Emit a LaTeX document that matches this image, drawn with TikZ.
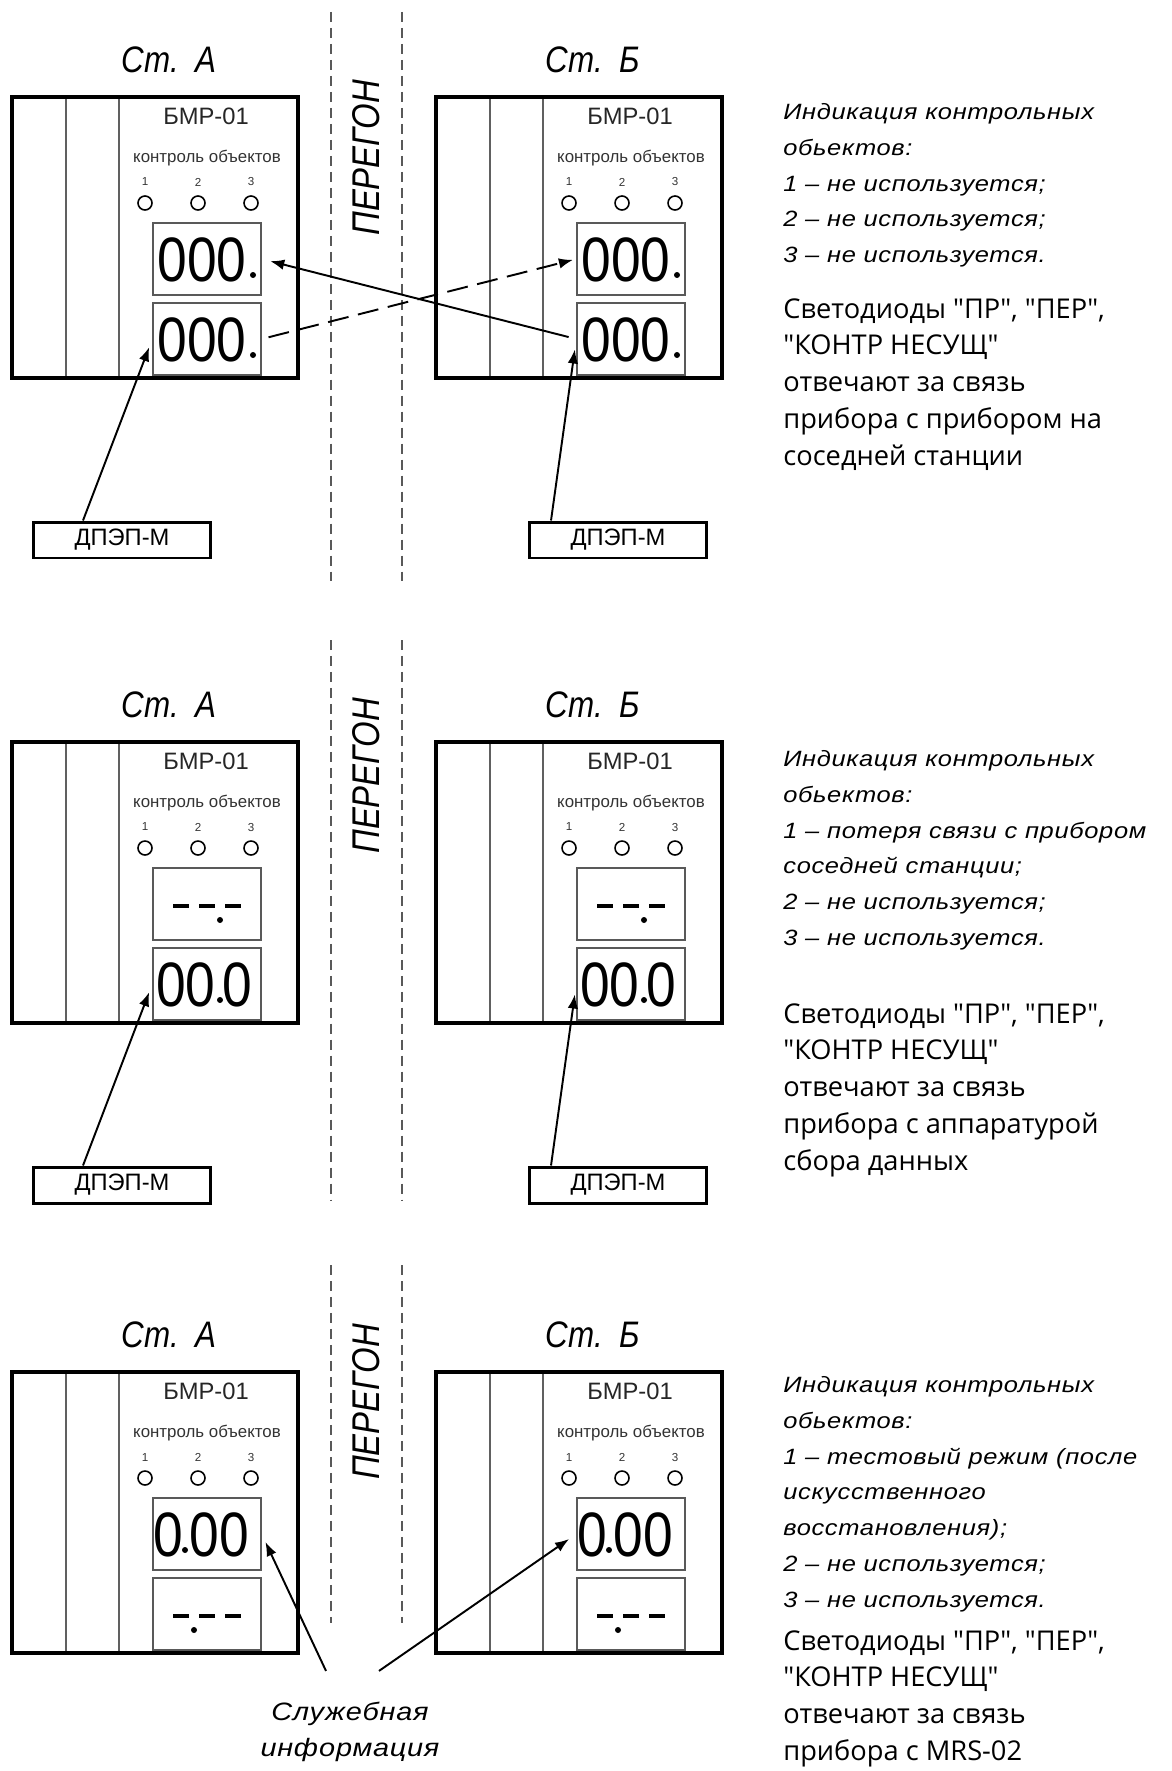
\documentclass[tikz,border=0pt]{standalone}
\usepackage{fontspec}
\setmainfont{Liberation Sans}
\newfontfamily\gostfont[FakeStretch=1.15,LetterSpace=3]{Liberation Sans}
\newfontfamily\titlefont[FakeStretch=0.85]{Liberation Sans}
\newfontfamily\notefont{Open Sans}
\newfontfamily\segfont[FakeStretch=0.85]{Liberation Sans}
\usetikzlibrary{arrows.meta}

\tikzset{
  unit/.style={line width=2pt},
  rack/.style={line width=0.8pt, gray!75!black},
  panel/.style={draw=gray!70!black, line width=0.8pt, minimum width=2.16cm, minimum height=1.44cm, inner sep=0},
  lamp/.style={line width=0.9pt},
  num/.style={font=\fontsize{6.6}{7}\selectfont, inner sep=0, black!80},
  seg/.style={font=\segfont\fontsize{35.7}{36}\selectfont, inner sep=0},
  segbar/.style={line width=2.4pt},
  sensor/.style={draw, line width=1.7pt, minimum width=3.56cm, minimum height=0.72cm, inner sep=0, font=\fontsize{13.5}{14}\selectfont},
  link/.style={-{Latex[length=8pt,width=6pt]}, line width=1.1pt},
  border/.style={gray!70!black, line width=0.9pt, dash pattern=on 5.7pt off 3.4pt},
  stname/.style={font=\titlefont\itshape\fontsize{21}{22}\selectfont, inner sep=0},
  note/.style={anchor=north west, align=left, inner sep=0, font=\gostfont\itshape\fontsize{12.6}{20.4}\selectfont},
  led/.style={anchor=north west, align=left, inner sep=0, font=\notefont\fontsize{15.5}{21}\selectfont},
}

\begin{document}
\begin{tikzpicture}[x=0.02cm, y=-0.02cm]
  \useasboundingbox (0,0) rectangle (1172,1771);

  % Two BMR-01 units per row, three rows
  \foreach \s/\oy in {1/0, 2/645, 3/1275}{
    \foreach \st/\ox/\nm in {A/0/А, B/424/Б}{
      \begin{scope}[shift={(12+\ox,97+\oy)}]
        \draw[rack] (54,0) -- (54,281) (107,0) -- (107,281);
        \draw[unit] (0,0) rectangle (286,281);
        \node[stname] (st\st\s) at (157,-37) {Ст.\hspace{0.45em}\nm};
        \node[font=\fontsize{13.5}{14}\selectfont, black!85] (bmr\st\s) at (194,19) {БМР-01};
        \node[font=\fontsize{9.6}{10}\selectfont, black!80] (ko\st\s) at (195,61) {контроль объектов};
        \foreach \i/\cx in {1/133, 2/186, 3/239}{
          \node[num] (n\st\s\i) at (\cx,85) {\i};
          \draw[lamp] (\cx,106) circle (0.14cm);
        }
        % upper and lower indicators
        \node[panel] (\st\s u) at (195,162) {};
        \node[panel] (\st\s l) at (195,242) {};
      \end{scope}
    }
  }

  % Haul section between stations
  \foreach \ya/\yb/\yt in {12/581/158, 640/1200/776, 1265/1623/1402}{
    \draw[border] (331,\ya) -- (331,\yb);
    \draw[border] (402,\ya) -- (402,\yb);
    \node[rotate=90, font=\titlefont\itshape\fontsize{22}{23}\selectfont, inner sep=0] (hl\yt) at (366,\yt) {ПЕРЕГОН};
  }

  % Row 1: counters
  \foreach \p in {A1u,A1l,B1u,B1l}{
    \node[seg] (\p d) at ([shift={(-5,1)}]\p.center) {000};
    \fill ([shift={(46,16)}]\p.center) circle (0.06cm);
  }
  % Row 2: no link / counter
  \foreach \p in {A2u,B2u}{
    \foreach \dx in {-34,-8,18}
      \draw[segbar] ([shift={(\dx,2)}]\p.center) -- ++(16,0);
    \fill ([shift={(13,16)}]\p.center) circle (0.06cm);
  }
  \foreach \p in {A2l,B2l}{
    \node[seg] (\p d) at ([shift={(-3,1)}]\p.center) {00\kern4pt0};
    \fill ([shift={(13,16)}]\p.center) circle (0.06cm);
  }
  % Row 3: service info / no link
  \foreach \p in {A3u,B3u}{
    \node[seg] (\p d) at ([shift={(-6,1)}]\p.center) {0\kern4pt00};
    \fill ([shift={(-22,16)}]\p.center) circle (0.06cm);
  }
  \foreach \p in {A3l,B3l}{
    \foreach \dx in {-34,-8,18}
      \draw[segbar] ([shift={(\dx,2)}]\p.center) -- ++(16,0);
    \fill ([shift={(-13,16)}]\p.center) circle (0.06cm);
  }

  % DPEP-M sensors, rows 1 and 2
  \foreach \s/\oy in {1/0, 2/645}{
    \node[sensor] (dpA\s) at (122,540+\oy) {ДПЭП-М};
    \node[sensor] (dpB\s) at (618,540+\oy) {ДПЭП-М};
    \draw[link, shorten >=5pt] ([xshift=-0.78cm]dpA\s.north) -- (A\s l.west);
    \draw[link, shorten >=6pt] ([xshift=-1.34cm]dpB\s.north) -- (B\s l.west);
  }

  % Row 1: exchange between stations
  \draw[link, shorten <=4.5pt, shorten >=5pt] (B1l.west) -- (A1u.east);
  \draw[link, dash pattern=on 12pt off 5.5pt, shorten <=4pt, shorten >=2pt] (A1l.east) -- (B1u.west);

  % Row 3: service info
  \node[font=\gostfont\itshape\fontsize{14.3}{20.4}\selectfont, align=center, inner sep=0] (srv) at (350,1732) {Служебная\\информация};
  \draw[link, shorten >=5pt] ([shift={(-24,-31)}]srv.north) -- (A3u.east);
  \draw[link, shorten >=5pt] ([shift={(29,-31)}]srv.north) -- (B3u.west);

  % Notes
  \node[note] (ind1) at (783,103) {Индикация контрольных\\обьектов:\\1 – не используется;\\2 – не используется;\\3 – не используется.};
  \node[led] (led1) at (783,298) {Светодиоды "ПР", "ПЕР",\\"КОНТР НЕСУЩ"\\отвечают за связь\\прибора с прибором на\\соседней станции};
  \node[note] (ind2) at (783,750) {Индикация контрольных\\обьектов:\\1 – потеря связи с прибором\\соседней станции;\\2 – не используется;\\3 – не используется.};
  \node[led] (led2) at (783,1003) {Светодиоды "ПР", "ПЕР",\\"КОНТР НЕСУЩ"\\отвечают за связь\\прибора с аппаратурой\\сбора данных};
  \node[note] (ind3) at (783,1376) {Индикация контрольных\\обьектов:\\1 – тестовый режим (после\\искусственного\\восстановления);\\2 – не используется;\\3 – не используется.};
  \node[led] (led3) at (783,1630) {Светодиоды "ПР", "ПЕР",\\"КОНТР НЕСУЩ"\\отвечают за связь\\прибора с MRS-02};
\end{tikzpicture}
\end{document}
